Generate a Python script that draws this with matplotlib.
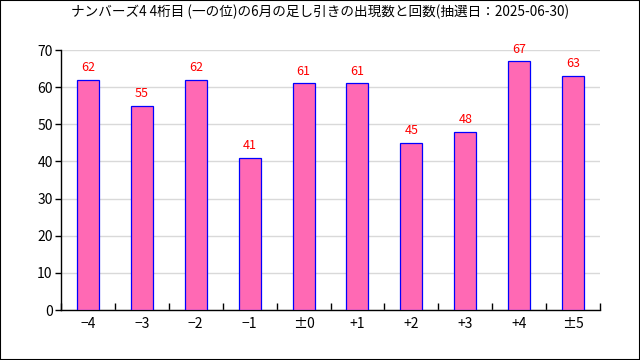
import numpy as np
import matplotlib.pyplot as plt
from matplotlib.patches import Rectangle

plt.rcParams['font.family'] = ['Noto Sans CJK JP', 'DejaVu Sans']

title = 'ナンバーズ4 4桁目 (一の位)の6月の足し引きの出現数と回数(抽選日：2025-06-30)'
labels = ['−4', '−3', '−2', '−1', '±0', '+1', '+2', '+3', '+4', '±5']
counts = [62, 55, 62, 41, 61, 61, 45, 48, 67, 63]

fig = plt.figure(figsize=(6.4, 3.6), dpi=100)
fig.patches.append(Rectangle((0, 0), 1, 1, transform=fig.transFigure,
                             fill=False, edgecolor='black', linewidth=1.5))
ax = fig.add_axes([61 / 640, 50 / 360, 539 / 640, 260 / 360])

x = np.arange(len(counts))
ax.bar(x, counts, width=0.41, color='#ff69b4', edgecolor='blue', linewidth=0.9, zorder=3)
for xi, c in zip(x, counts):
    ax.text(xi, c + 1.5, str(c), ha='center', va='bottom', color='red', fontsize=9)

ax.set_xlim(-0.5, len(counts) - 0.5)
ax.set_ylim(0, 70)
ax.set_yticks(range(0, 71, 10))
ax.yaxis.grid(True, color='#d9d9d9', linewidth=1, zorder=0)
ax.set_xticks(x)
ax.set_xticklabels(labels)
ax.set_xticks(np.arange(-0.5, len(counts)), minor=True)
ax.tick_params(axis='x', which='major', length=0, pad=5, labelsize=10)
ax.tick_params(axis='x', which='minor', direction='in', length=5, width=1)
ax.tick_params(axis='y', length=4, width=1, pad=2, labelsize=10)
for s in ['top', 'right']:
    ax.spines[s].set_visible(False)
for s in ['left', 'bottom']:
    ax.spines[s].set_linewidth(1)

fig.text(0.5, 1 - 12 / 360, title, ha='center', va='center', fontsize=9.8)

fig.savefig('out.png', dpi=100)
